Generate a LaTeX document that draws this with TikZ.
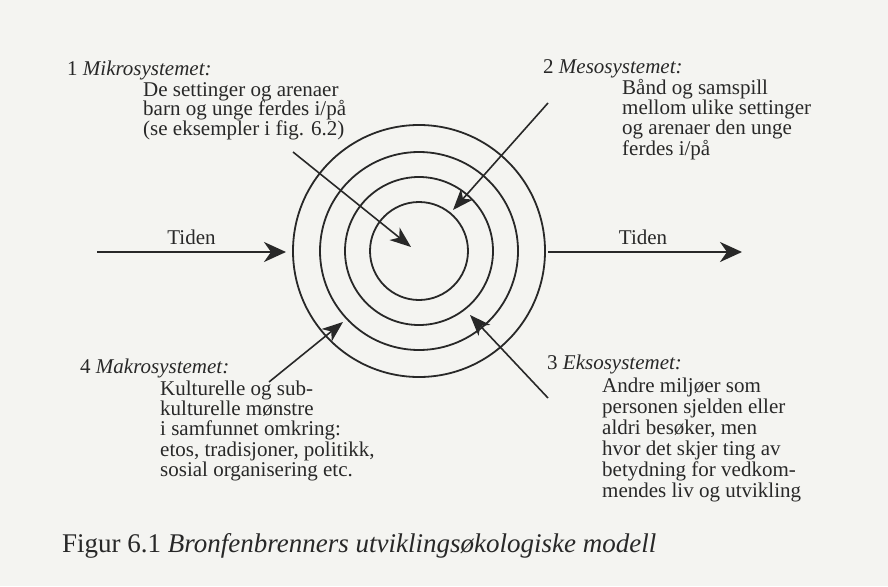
\documentclass[tikz,border=0pt]{standalone}
\usepackage{fontspec}
\setmainfont{Liberation Serif}
\usetikzlibrary{arrows.meta}
\definecolor{bg}{RGB}{244,244,241}
\definecolor{ink}{RGB}{40,40,40}
\lineskiplimit=-100pt
\newcommand\mylines[1]{\vtop{\halign{##\hfil\cr#1\crcr}}}
\begin{document}
\begin{tikzpicture}[x=1pt,y=-1pt,
  txt/.style={anchor=base west, inner sep=0pt, text=ink, font=\fontsize{21}{20.4}\selectfont},
  txtm/.style={txt, font=\fontsize{21}{19.5}\selectfont},
  txte/.style={txt, font=\fontsize{21}{21}\selectfont},
  ring/.style={circle, draw=ink, line width=1.8pt, inner sep=0pt},
  tarrow/.style={draw=ink, line width=2.6pt, -{Stealth[length=22pt,width=20pt,inset=7pt]}},
  darrow/.style={draw=ink, line width=1.6pt, -{Stealth[length=21pt,width=16pt,inset=6pt]}}]
\fill[bg] (0,0) rectangle (888,586);
\useasboundingbox (0,0) rectangle (888,586);
% rings
\node[ring, minimum size=252pt] (r4) at (419,251) {};
\node[ring, minimum size=198pt] (r3) at (419,251) {};
\node[ring, minimum size=148pt] (r2) at (419,251) {};
\node[ring, minimum size=98pt] (r1) at (419,251) {};
% time arrows
\coordinate (tl0) at (97,252);
\coordinate (tl1) at (286,252);
\coordinate (tr0) at (548,252);
\coordinate (tr1) at (742,252);
\draw[tarrow] (tl0) -- (tl1) node[midway, above=6pt, text=ink, font=\fontsize{21}{21}\selectfont, inner sep=0pt] (tidl) {Tiden};
\draw[tarrow] (tr0) -- (tr1) node[pos=0.49, above=6pt, text=ink, font=\fontsize{21}{21}\selectfont, inner sep=0pt] (tidr) {Tiden};
% labels
\node[txt] (h1) at (67,75) {1 \textit{Mikrosystemet:}};
\node[txtm] (b1) at (143,96) {\mylines{De settinger og arenaer\cr barn og unge ferdes i/på\cr (se eksempler i fig. 6.2)}};
\node[txt] (h2) at (543,74) {2 \textit{Mesosystemet:}};
\node[txt] (b2) at (622,94) {\mylines{Bånd og samspill\cr mellom ulike settinger\cr og arenaer den unge\cr ferdes i/på}};
\node[txt] (h4) at (80,373) {4 \textit{Makrosystemet:}};
\node[txt] (b4) at (160,395) {\mylines{Kulturelle og sub-\cr kulturelle mønstre\cr i samfunnet omkring:\cr etos, tradisjoner, politikk,\cr sosial organisering etc.}};
\node[txt] (h3) at (547,369) {3 \textit{Eksosystemet:}};
\node[txte] (b3) at (602,392) {\mylines{Andre miljøer som\cr personen sjelden eller\cr aldri besøker, men\cr hvor det skjer ting av\cr betydning for vedkom-\cr mendes liv og utvikling}};
\node[anchor=base west, inner sep=0pt, text=ink, font=\fontsize{27}{30}\selectfont] (cap) at (62,552) {Figur 6.1 \textit{Bronfenbrenners utviklingsøkologiske modell}};
% system arrows
\coordinate (m0) at (293,152);
\coordinate (m1) at (411,247);
\coordinate (s0) at (548,103);
\coordinate (s1) at (453,210);
\coordinate (k0) at (269,382);
\coordinate (k1) at (343,322);
\coordinate (e0) at (548,398);
\coordinate (e1) at (470,315);
\draw[darrow] (m0) -- (m1);
\draw[darrow] (s0) -- (s1);
\draw[darrow] (k0) -- (k1);
\draw[darrow] (e0) -- (e1);
\end{tikzpicture}
\end{document}
